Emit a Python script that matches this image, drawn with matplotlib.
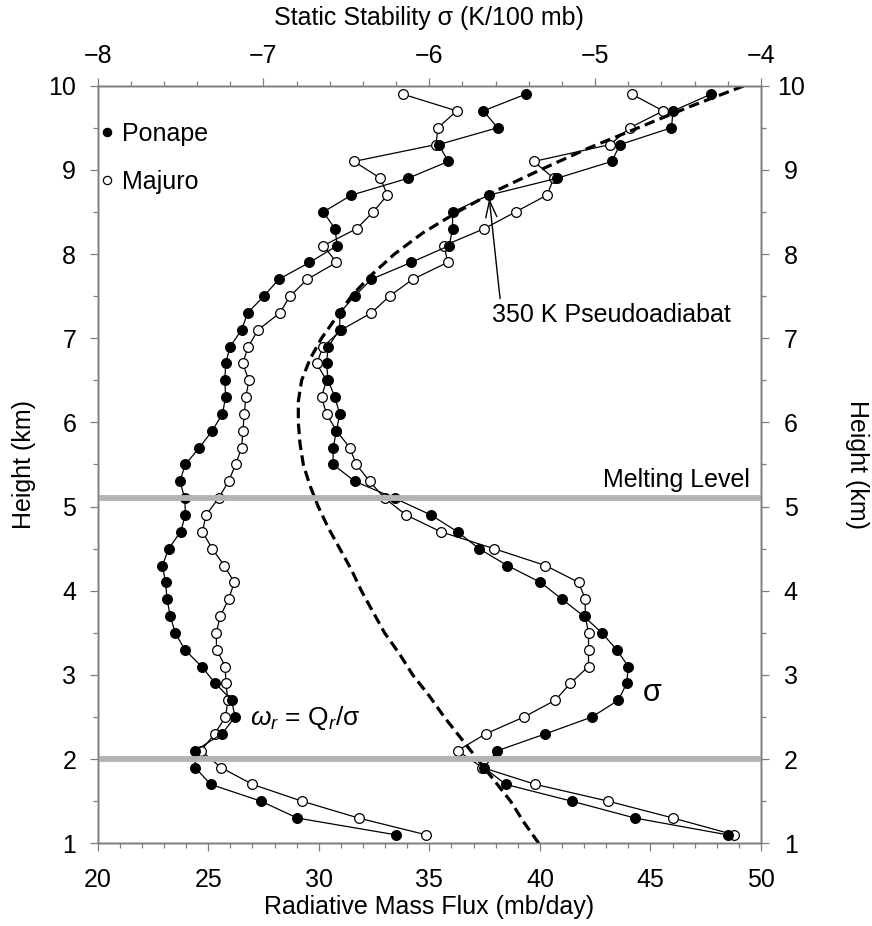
import matplotlib
matplotlib.use('Agg')
import matplotlib.pyplot as plt
from matplotlib.lines import Line2D
from matplotlib.ticker import MultipleLocator

plt.rcParams['font.family'] = ['Liberation Sans', 'DejaVu Sans']
plt.rcParams['mathtext.fontset'] = 'custom'
plt.rcParams['mathtext.rm'] = 'Liberation Sans'
plt.rcParams['mathtext.it'] = 'Liberation Sans:italic'

GRAY = '#7f7f7f'
BAND = '#b3b3b3'

# sounding levels (km)
HEIGHT = [1.1, 1.3, 1.5, 1.7, 1.9, 2.1, 2.3, 2.5, 2.7, 2.9,
          3.1, 3.3, 3.5, 3.7, 3.9, 4.1, 4.3, 4.5, 4.7, 4.9,
          5.1, 5.3, 5.5, 5.7, 5.9, 6.1, 6.3, 6.5, 6.7, 6.9,
          7.1, 7.3, 7.5, 7.7, 7.9, 8.1, 8.3, 8.5, 8.7, 8.9,
          9.1, 9.3, 9.5, 9.7, 9.9]

# radiative mass flux (mb/day)
omega_ponape = [33.50, 29.03, 27.39, 25.11, 24.41, 24.41, 25.62, 26.21, 26.06, 25.32,
                24.70, 23.94, 23.51, 23.28, 23.14, 23.07, 22.93, 23.21, 23.75, 23.97,
                23.94, 23.72, 23.96, 24.60, 25.18, 25.64, 25.79, 25.75, 25.79, 25.99,
                26.51, 26.78, 27.52, 28.19, 29.58, 30.84, 30.73, 30.21, 31.48, 34.04,
                35.86, 35.42, 38.09, 37.44, 39.37]
omega_majuro = [34.87, 31.80, 29.25, 27.00, 25.58, 24.67, 25.29, 25.78, 25.89, 25.80,
                25.77, 25.38, 25.36, 25.55, 25.92, 26.18, 25.72, 25.18, 24.74, 24.90,
                25.47, 25.92, 26.24, 26.51, 26.57, 26.63, 26.70, 26.84, 26.56, 26.81,
                27.26, 28.24, 28.70, 29.48, 30.80, 30.21, 31.71, 32.46, 33.10, 32.79,
                31.59, 35.30, 35.39, 36.24, 33.79]

# static stability (K/100 mb)
sigma_ponape = [-4.20, -4.76, -5.14, -5.54, -5.67, -5.59, -5.30, -5.02, -4.86, -4.81,
                -4.80, -4.87, -4.96, -5.07, -5.20, -5.33, -5.53, -5.70, -5.83, -5.99,
                -6.21, -6.45, -6.58, -6.58, -6.56, -6.54, -6.57, -6.61, -6.62, -6.61,
                -6.54, -6.54, -6.45, -6.35, -6.11, -5.88, -5.86, -5.86, -5.64, -5.23,
                -4.90, -4.85, -4.54, -4.53, -4.30]
sigma_majuro = [-4.16, -4.53, -4.92, -5.36, -5.68, -5.83, -5.66, -5.43, -5.24, -5.15,
                -5.04, -5.04, -5.04, -5.06, -5.06, -5.10, -5.30, -5.61, -5.93, -6.14,
                -6.27, -6.36, -6.44, -6.48, -6.56, -6.62, -6.65, -6.62, -6.68, -6.64,
                -6.53, -6.35, -6.24, -6.10, -5.89, -5.91, -5.67, -5.48, -5.29, -5.25,
                -5.37, -4.91, -4.79, -4.59, -4.78]

# 350 K pseudoadiabat
pseudo_height = [1.0, 1.25, 1.5, 1.75, 2.0, 2.25, 2.5, 2.75, 3.0, 3.25,
                 3.5, 3.75, 4.0, 4.25, 4.5, 4.75, 5.0, 5.25, 5.5, 5.75,
                 6.0, 6.25, 6.5, 6.75, 7.0, 7.25, 7.5, 7.75, 8.0, 8.25,
                 8.5, 8.75, 9.0, 9.25, 9.5, 9.75, 10.0]
pseudo_sigma = [-5.34, -5.43, -5.51, -5.61, -5.71, -5.81, -5.91, -6.00, -6.10, -6.18,
                -6.27, -6.34, -6.41, -6.47, -6.54, -6.61, -6.67, -6.72, -6.76, -6.78,
                -6.79, -6.79, -6.77, -6.72, -6.65, -6.56, -6.47, -6.35, -6.21, -6.04,
                -5.83, -5.60, -5.33, -5.05, -4.74, -4.43, -4.10]

LEVELS = [2.0, 5.1]

fig = plt.figure(figsize=(8.72, 9.26), dpi=100)
ax = fig.add_axes([0.1120, 0.0893, 0.7607, 0.8182])
ax2 = ax.twiny()
ax3 = ax.twinx()

filled = dict(color='black', lw=0.9, marker='o', ms=7.0, mfc='black', mec='black', mew=0.9)
hollow = dict(color='black', lw=0.9, marker='o', ms=7.0, mfc='white', mec='black', mew=0.9)

ax.plot(omega_majuro, HEIGHT, **hollow)
ax.plot(omega_ponape, HEIGHT, **filled)
ax2.plot(sigma_majuro, HEIGHT, **hollow)
ax2.plot(sigma_ponape, HEIGHT, **filled)
ax2.plot(pseudo_sigma, pseudo_height, color='black', lw=2.3, dashes=(3.3, 1.7))
for lev in LEVELS:
    ax2.axhline(lev, color=BAND, lw=4.2, zorder=5)

ax.set_xlim(20, 50)
ax2.set_xlim(-8, -4)
ax.set_ylim(1, 10)
ax3.set_ylim(1, 10)

ax.xaxis.set_major_locator(MultipleLocator(5))
ax.xaxis.set_minor_locator(MultipleLocator(1))
ax2.xaxis.set_major_locator(MultipleLocator(1))
ax2.xaxis.set_minor_locator(MultipleLocator(0.2))
for a in (ax, ax3):
    a.yaxis.set_major_locator(MultipleLocator(1))
    a.yaxis.set_minor_locator(MultipleLocator(0.5))

for a in (ax, ax2, ax3):
    for sp in a.spines.values():
        sp.set_color(GRAY)
        sp.set_linewidth(1.0)
    a.tick_params(which='both', direction='out', color=GRAY, width=0.9,
                  labelsize=18, labelcolor='black')
    a.tick_params(which='major', length=6)
    a.tick_params(which='minor', length=3.5)

ax.tick_params(axis='x', pad=11.5)
ax.tick_params(axis='y', pad=9.5)
ax2.tick_params(axis='x', pad=6.5)
ax3.tick_params(axis='y', pad=15.5)
ax3.set_yticks(range(1, 11))
plt.setp(ax3.get_yticklabels(), ha='center')

# axis titles
fig.text(0.492, 0.0205, 'Radiative Mass Flux (mb/day)', ha='center', va='center', fontsize=18)
fig.text(0.492, 0.9806, 'Static Stability σ (K/100 mb)', ha='center', va='center', fontsize=18)
fig.text(0.0275, 0.4984, 'Height (km)', ha='center', va='center', rotation=90, fontsize=18)
fig.text(0.9828, 0.4984, 'Height (km)', ha='center', va='center', rotation=270, fontsize=18)

# legend
handles = [Line2D([], [], ls='none', **{k: v for k, v in filled.items() if k not in ('lw',)}),
           Line2D([], [], ls='none', **{k: v for k, v in hollow.items() if k not in ('lw',)})]
ax2.legend(handles, ['Ponape', 'Majuro'], loc='upper left', bbox_to_anchor=(0.003, 0.952),
           frameon=False, fontsize=18, markerscale=0.85, handlelength=0.6,
           handletextpad=0.3, labelspacing=0.95, borderpad=0, borderaxespad=0)

# annotations
ax.text(49.5, 5.31, 'Melting Level', ha='right', va='center', fontsize=18)
ax.text(37.82, 7.28, '350 K Pseudoadiabat', ha='left', va='center', fontsize=18)
ax.annotate('', xy=(37.71, 8.66), xytext=(38.2, 7.47),
            arrowprops=dict(arrowstyle='->,head_length=1.2,head_width=0.4',
                            color='black', lw=1.0, shrinkA=0, shrinkB=0))
ax.text(26.89, 2.49, r'$\omega_r$ = Q$_r$/σ', ha='left', va='center', fontsize=19)
ax.text(45.07, 2.79, 'σ', ha='center', va='center', fontsize=22)

fig.savefig('out.png', dpi=100)
